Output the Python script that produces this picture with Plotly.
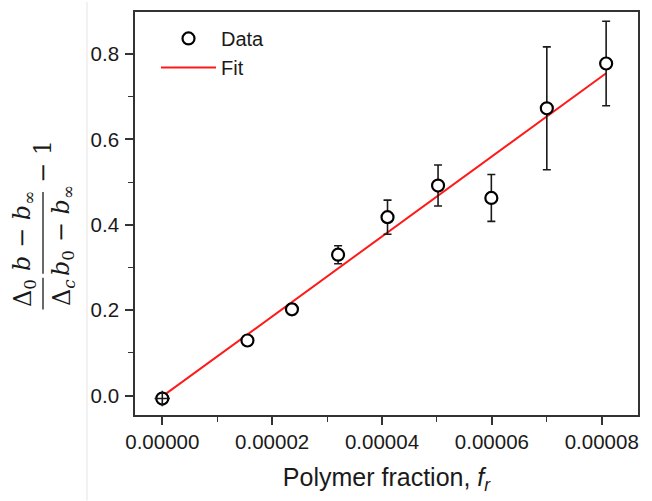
import plotly.graph_objects as go

# ---- data ----
frac_x = [0.0, 1.55e-5, 2.36e-5, 3.20e-5, 4.10e-5, 5.02e-5, 5.99e-5, 7.00e-5, 8.08e-5]
resp_y = [-0.007, 0.129, 0.202, 0.330, 0.418, 0.492, 0.463, 0.673, 0.778]
resp_err = [0.006, 0.006, 0.012, 0.021, 0.040, 0.048, 0.055, 0.144, 0.099]

fit_x = [0.0, 8.08e-5]
fit_y = [-0.002, 0.755]

x_ticks = [0.0, 0.00002, 0.00004, 0.00006, 0.00008]
y_ticks = [0.0, 0.2, 0.4, 0.6, 0.8]

# ---- layout geometry ----
W, H = 652, 501
L, R, T, B = 135, 14, 10, 86
PW, PH = W - L - R, H - T - B
AX = "#333333"
SANS = "Liberation Sans, Arial, sans-serif"


def px_to_paper(px, py):
    return (px - L) / PW, (H - B - py) / PH


fig = go.Figure()

fig.add_trace(go.Scatter(
    x=fit_x, y=fit_y, mode="lines", name="Fit",
    line=dict(color="#ff1a1a", width=2), legendrank=2,
))

fig.add_trace(go.Scatter(
    x=frac_x, y=resp_y, mode="markers", name="Data",
    marker=dict(symbol="circle", size=12, color="white",
                line=dict(color="black", width=2.2)),
    error_y=dict(type="data", array=resp_err, visible=True,
                 color="#1a1a1a", thickness=1.6, width=4),
    legendrank=1,
))

# error bar of the first point shows through its marker (drawn as a cross)
fig.add_trace(go.Scatter(
    x=frac_x[:1], y=resp_y[:1], mode="markers", showlegend=False, hoverinfo="skip",
    marker=dict(symbol="cross-thin-open", size=11, color="#1a1a1a",
                line=dict(color="#1a1a1a", width=1.6)),
))

axis_common = dict(
    showline=True, linecolor=AX, linewidth=1.6, mirror=True,
    ticks="outside", ticklen=8, tickwidth=1.5, tickcolor=AX,
    showgrid=False, zeroline=False,
    tickfont=dict(family=SANS, size=20.5, color="#1a1a1a"),
)

fig.update_xaxes(
    range=[-4.97e-6, 8.66e-5], tickvals=x_ticks, tickformat=".5f",
    minor=dict(dtick=1e-5, ticks="outside", ticklen=5, tickwidth=1.3, tickcolor=AX),
    title=dict(text="Polymer fraction, <i>f</i><sub><i>r</i></sub>",
               font=dict(family=SANS, size=25, color="#1a1a1a"),
               standoff=16),
    **axis_common,
)
fig.update_yaxes(
    range=[-0.0455, 0.8986], tickvals=y_ticks, tickformat=".1f",
    minor=dict(dtick=0.1, ticks="outside", ticklen=5, tickwidth=1.3, tickcolor=AX),
    ticklabelstandoff=2,
    **axis_common,
)

# ---- y-axis title built as a stacked fraction ----
serif = "DejaVu Serif, Liberation Serif, serif"


def ann(text, px, py, size=24):
    fig.add_annotation(
        text=text, xref="paper", yref="paper", x=0, y=0,
        xshift=px - L, yshift=(H - B) - py,
        xanchor="center", yanchor="middle", textangle=-90, showarrow=False,
        font=dict(family=serif, size=size, color="#1a1a1a"),
    )


ann("Δ<sub>0</sub>", 24, 293)
ann("Δ<sub><i>c</i></sub>", 63, 293)
ann("<i>b</i> − <i>b</i><sub>∞</sub>", 23, 231)
ann("<i>b</i><sub>0</sub> − <i>b</i><sub>∞</sub>", 62, 231)
ann("− 1", 43, 162)

shapes = []
for (x0, y0, y1) in [(43, 277, 309), (43, 191, 273)]:
    a0, b0 = px_to_paper(x0, y0)
    a1, b1 = px_to_paper(x0, y1)
    shapes.append(dict(type="line", xref="paper", yref="paper",
                       x0=a0, x1=a1, y0=b0, y1=b1,
                       line=dict(color="#1a1a1a", width=1.3)))
# faint page separator visible in the reference
g0 = px_to_paper(87, 0)
g1 = px_to_paper(87, H)
shapes.append(dict(type="line", xref="paper", yref="paper",
                   x0=g0[0], x1=g1[0], y0=g0[1], y1=g1[1],
                   line=dict(color="#e4e4e4", width=1)))

lx, ly = px_to_paper(156, 17)
fig.update_layout(
    width=W, height=H,
    margin=dict(l=L, r=R, t=T, b=B),
    paper_bgcolor="white", plot_bgcolor="white",
    shapes=shapes,
    showlegend=True,
    legend=dict(x=lx, y=ly, xanchor="left", yanchor="top",
                bgcolor="rgba(0,0,0,0)", borderwidth=0,
                itemwidth=55,
                font=dict(family=SANS, size=20, color="#1a1a1a"),
                tracegroupgap=0),
)

fig.write_html("out.html")
